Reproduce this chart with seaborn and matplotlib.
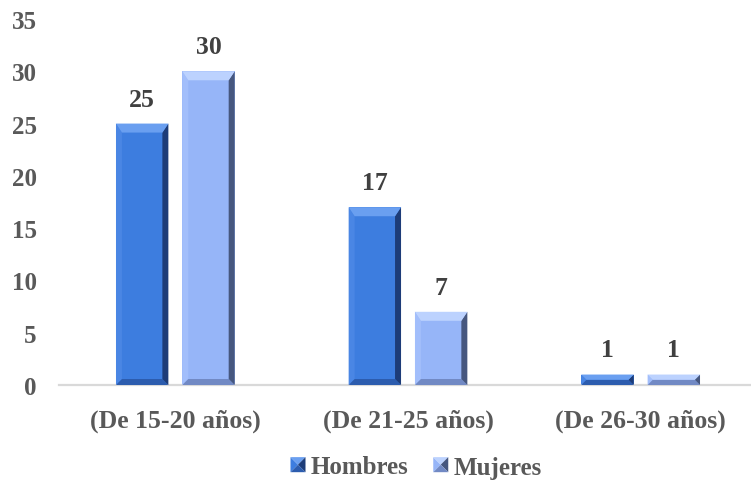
import matplotlib
matplotlib.use("Agg")
import matplotlib.pyplot as plt
import seaborn as sns
import pandas as pd
import numpy as np
from matplotlib.patches import Polygon, Patch
from matplotlib.legend_handler import HandlerBase

# Data
categories = ["(De 15-20 años)", "(De 21-25 años)", "(De 26-30 años)"]
hombres = [25, 17, 1]
mujeres = [30, 7, 1]
series_names = ["Hombres", "Mujeres"]
y_ticks = [0, 5, 10, 15, 20, 25, 30, 35]

df = pd.DataFrame({
    "grupo": categories * 2,
    "sexo": [series_names[0]] * 3 + [series_names[1]] * 3,
    "valor": hombres + mujeres,
})

# Face / light / dark tones for the bevelled bars
tones = {
    "Hombres": {"face": "#3d7ddf", "top": "#6a9ff0", "left": "#4a86e4",
                "right": "#1d3c78", "bottom": "#2c5cae"},
    "Mujeres": {"face": "#96b5f8", "top": "#bcd2fe", "left": "#a2befb",
                "right": "#46577f", "bottom": "#7189c4"},
}

sns.set_theme(style="white")
plt.rcParams["font.family"] = ["Liberation Serif", "DejaVu Serif"]
plt.rcParams["font.weight"] = "bold"

W, H = 751, 481
fig = plt.figure(figsize=(W / 100, H / 100), dpi=100)
ax_left, ax_right, ax_top, ax_bottom = 59, 757, 20, 386
ax = fig.add_axes([ax_left / W, 1 - ax_bottom / H,
                   (ax_right - ax_left) / W, (ax_bottom - ax_top) / H])

sns.barplot(data=df, x="grupo", y="valor", hue="sexo", order=categories,
            hue_order=series_names,
            palette=[tones[n]["face"] for n in series_names],
            saturation=1, width=0.57, gap=0.21, ax=ax, legend=False,
            linewidth=0, errorbar=None)

ax.set_ylim(0, 35)
ax.set_xlim(-0.5, 2.5)
ax.set_yticks(y_ticks)
ax.set_yticklabels([str(t) for t in y_ticks])
ax.set_xlabel("")
ax.set_ylabel("")
for s in ["left", "right", "top"]:
    ax.spines[s].set_visible(False)
ax.spines["bottom"].set_color("#d9d9d9")
ax.spines["bottom"].set_linewidth(1.6)
ax.tick_params(axis="both", length=0, colors="#595959")
ax.tick_params(axis="x", pad=17, labelsize=18.5)
ax.tick_params(axis="y", pad=16, labelsize=18)
for lab in ax.get_xticklabels() + ax.get_yticklabels():
    lab.set_fontweight("bold")
    lab.set_color("#595959")

fig.canvas.draw()
to_disp = ax.transData
to_data = ax.transData.inverted()


def bevel_polys(x0, y0, x1, y1, b_top, b_side):
    """Return bevel polygons (display coords) for a rectangle."""
    bt = min(b_top, (y1 - y0) / 2.0)
    bs = min(b_side, (y1 - y0) / 2.0)
    top = [(x0, y1), (x1, y1), (x1 - bs, y1 - bt), (x0 + bs, y1 - bt)]
    right = [(x1, y1), (x1, y0), (x1 - bs, y0 + bs), (x1 - bs, y1 - bt)]
    bottom = [(x0, y0), (x1, y0), (x1 - bs, y0 + bs), (x0 + bs, y0 + bs)]
    left = [(x0, y0), (x0, y1), (x0 + bs, y1 - bt), (x0 + bs, y0 + bs)]
    return {"top": top, "right": right, "bottom": bottom, "left": left}


bars = list(ax.patches)
series_for_bar = [series_names[0] if i < len(categories) else series_names[1]
                  for i in range(len(bars))]

values = hombres + mujeres
for p, name, val in zip(bars, series_for_bar, values):
    x = p.get_x()
    w = p.get_width()
    h = p.get_height()
    (dx0, dy0) = to_disp.transform((x, 0))
    (dx1, dy1) = to_disp.transform((x + w, h))
    polys = bevel_polys(dx0, dy0, dx1, dy1, 9, 6)
    for side in ["left", "bottom", "right", "top"]:
        pts = to_data.transform(np.array(polys[side]))
        ax.add_patch(Polygon(pts, closed=True, facecolor=tones[name][side],
                             edgecolor="none", zorder=3))
    ax.annotate(str(val), (x + w / 2, h), xytext=(0, 13),
                textcoords="offset points", ha="center", va="baseline",
                fontsize=18.5, fontweight="bold", color="#404040")


class BevelHandler(HandlerBase):
    def create_artists(self, legend, orig_handle, xdescent, ydescent,
                       width, height, fontsize, trans):
        name = orig_handle.get_label()
        x0 = -xdescent
        y0 = -ydescent
        t = tones[name]
        c = (x0 + width / 2, y0 + height / 2)
        tri = {
            "left": [(x0, y0), (x0, y0 + height), c],
            "top": [(x0, y0 + height), (x0 + width, y0 + height), c],
            "right": [(x0 + width, y0 + height), (x0 + width, y0), c],
            "bottom": [(x0, y0), (x0 + width, y0), c],
        }
        cols = {"left": t["face"], "top": t["top"], "right": t["right"],
                "bottom": t["bottom"]}
        return [Polygon(pts, closed=True, facecolor=cols[k], edgecolor="none",
                        transform=trans) for k, pts in tri.items()]


handles = [Patch(label=n) for n in series_names]
leg = fig.legend(handles=handles, labels=series_names, loc="center",
                 bbox_to_anchor=(416 / W, 1 - 468 / H), ncol=2, frameon=False,
                 handler_map={Patch: BevelHandler()}, handlelength=0.6,
                 handleheight=0.55, handletextpad=0.2, columnspacing=1.0,
                 prop={"size": 18, "weight": "bold"})
for txt in leg.get_texts():
    txt.set_color("#595959")

fig.savefig("out.png", dpi=100)
